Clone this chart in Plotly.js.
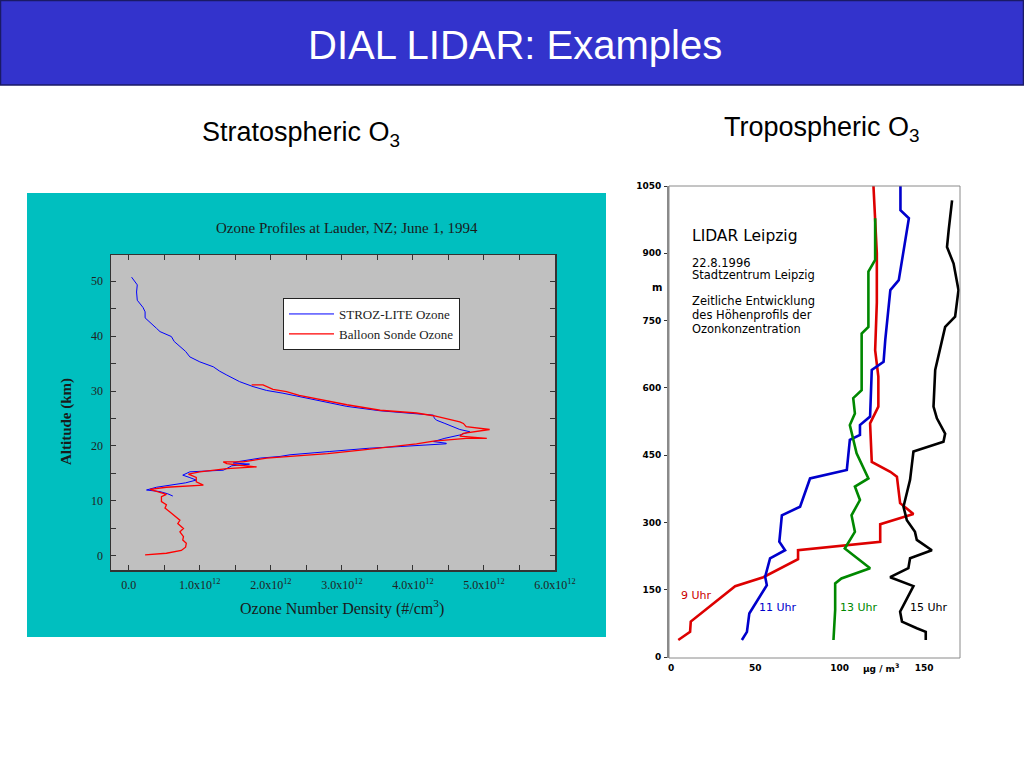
<!DOCTYPE html>
<html>
<head>
<meta charset="utf-8">
<script src="https://cdn.plot.ly/plotly-3.0.1.min.js"></script>
<style>html,body{margin:0;padding:0;background:#fff;}#chart{width:1024px;height:768px;}</style>
</head>
<body>
<div id="chart"></div>
<script>
// ---------- Data: stratospheric ozone (density in units of 1e12 #/cm^3, altitude km) ----------
const strozAlt = [50.7, 49.3, 48.0, 46.5, 45.2, 44.4, 43.3, 42.2, 41.4, 40.8, 39.9, 39.0, 38.1, 37.2, 36.2, 35.3, 34.4, 33.6, 32.9, 31.7, 30.8, 30.1, 29.6, 29.1, 28.4, 27.8, 27.2, 26.4, 26.0, 25.6, 25.1, 24.7, 24.1, 23.5, 23.0, 22.6, 22.0, 21.4, 20.8, 20.5, 20.4, 19.9, 19.6, 19.0, 18.4, 18.1, 17.8, 17.2, 16.9, 16.7, 16.4, 15.9, 15.6, 15.3, 14.7, 14.3, 13.8, 13.3, 12.9, 12.5, 12.0, 11.7, 11.3, 10.9];
const strozDen = [0.04, 0.12, 0.11, 0.12, 0.20, 0.23, 0.23, 0.33, 0.39, 0.44, 0.60, 0.64, 0.72, 0.80, 0.86, 1.00, 1.19, 1.28, 1.38, 1.56, 1.75, 1.94, 2.17, 2.36, 2.60, 2.85, 3.07, 3.54, 3.96, 4.29, 4.30, 4.33, 4.45, 4.57, 4.66, 4.80, 4.66, 4.45, 4.29, 4.47, 4.47, 3.82, 3.39, 2.83, 2.27, 2.13, 1.85, 1.56, 1.47, 1.70, 1.45, 1.38, 1.33, 0.86, 0.76, 0.85, 0.95, 0.80, 0.62, 0.39, 0.25, 0.44, 0.55, 0.62];

const sondeAlt = [0.2, 0.5, 1.0, 1.6, 2.3, 2.9, 3.5, 4.4, 5.0, 5.9, 6.5, 7.1, 8.0, 8.7, 9.3, 9.9, 10.8, 11.2, 11.7, 12.1, 12.5, 12.9, 13.5, 14.3, 14.9, 15.3, 15.9, 16.2, 16.5, 16.8, 17.1, 17.1, 17.8, 18.2, 18.6, 19.3, 20.0, 20.4, 20.9, 21.4, 21.4, 21.8, 22.3, 23.0, 23.5, 24.1, 24.4, 25.0, 25.5, 26.0, 26.2, 26.5, 27.5, 28.1, 28.7, 29.2, 29.9, 30.3, 31.1, 31.1];
const sondeDen = [0.23, 0.53, 0.74, 0.80, 0.81, 0.76, 0.77, 0.72, 0.77, 0.69, 0.72, 0.67, 0.58, 0.51, 0.53, 0.46, 0.46, 0.53, 0.39, 0.30, 0.53, 1.05, 0.95, 0.95, 0.84, 1.00, 1.38, 1.80, 1.56, 1.38, 1.33, 1.61, 1.94, 2.41, 2.80, 3.30, 3.77, 4.05, 4.29, 4.75, 5.04, 4.66, 4.71, 5.08, 4.75, 4.71, 4.66, 4.45, 4.29, 4.05, 3.82, 3.54, 3.07, 2.85, 2.60, 2.40, 2.22, 2.03, 1.89, 1.73];

const stratXTickVals = [0, 1, 2, 3, 4, 5, 6];
const stratXTickText = ["0.0", "1.0x10<sup>12</sup>", "2.0x10<sup>12</sup>", "3.0x10<sup>12</sup>", "4.0x10<sup>12</sup>", "5.0x10<sup>12</sup>", "6.0x10<sup>12</sup>"];
const stratXMinor = [0.5, 1.5, 2.5, 3.5, 4.5, 5.5];
const stratYTickVals = [0, 10, 20, 30, 40, 50];
const stratYMinor = [5, 15, 25, 35, 45];

// ---------- Data: tropospheric ozone Leipzig (ozone µg/m3, altitude m) ----------
const uhr9O3  = [4.3, 11.3, 11.7, 38, 54.7, 75.3, 75.3, 124, 124, 143.7, 135.8, 133.9, 130, 119, 118, 122.9, 122.9, 121, 122, 122, 120];
const uhr9Alt = [38, 56, 79, 158, 178, 218, 238, 257, 296, 319, 343, 402, 413, 435, 521, 558, 625, 684, 790, 900, 1050];

const uhr11O3  = [42, 45, 46.4, 56.8, 55.8, 58.7, 67.6, 64.2, 65.7, 74.6, 76.5, 82.4, 104.2, 106, 112, 112, 118, 119, 126, 127, 130, 135, 141, 136, 136];
const uhr11Alt = [38, 56, 97, 160, 179, 220, 238, 257, 316, 331, 335, 398, 417, 484, 495, 517, 536, 640, 658, 707, 818, 840, 978, 996, 1050];

const uhr13O3  = [96.3, 97.3, 97.3, 101, 118, 112, 103, 109, 107, 112, 109, 117, 110, 106, 109, 108, 113, 113, 117, 117, 121, 121];
const uhr13Alt = [38, 105, 164, 175, 198, 216, 242, 279, 316, 350, 380, 398, 454, 517, 543, 577, 595, 721, 736, 859, 885, 978];

const uhr15O3  = [151, 151, 145.7, 136.9, 135.8, 143.7, 129.9, 140.7, 141.7, 154.6, 145.7, 144.6, 139.8, 137.8, 141.7, 143.7, 161.5, 162.5, 157.6, 155.6, 156.6, 160.5, 162.5, 168.4, 170.4, 167.5, 163.6, 164.6, 166.6];
const uhr15Alt = [38, 56, 64, 79, 101, 158, 178, 198, 220, 238, 261, 279, 305, 335, 395, 458, 480, 498, 532, 558, 640, 707, 736, 759, 818, 877, 914, 952, 1018];

const tropXTickVals = [0, 50, 100, 150];
const tropYTickVals = [0, 150, 300, 450, 600, 750, 900, 1050];

// ---------- helpers for pixel -> paper positioning ----------
const W = 1024, H = 768;
const px = v => v / W;
const py = v => 1 - v / H;

const serif = "Liberation Serif, Times New Roman, serif";
const sans = "Liberation Sans, Arial, sans-serif";
const geneva = "DejaVu Sans, Verdana, sans-serif";

const traces = [
  {x: strozDen, y: strozAlt, xaxis: 'x', yaxis: 'y', mode: 'lines', name: 'STROZ-LITE Ozone',
   line: {color: '#0000FF', width: 1}},
  {x: sondeDen, y: sondeAlt, xaxis: 'x', yaxis: 'y', mode: 'lines', name: 'Balloon Sonde Ozone',
   line: {color: '#FF0000', width: 1.3}},
  {x: uhr9O3, y: uhr9Alt, xaxis: 'x2', yaxis: 'y2', mode: 'lines', name: '9 Uhr', showlegend: false,
   line: {color: '#DD0000', width: 2.6}},
  {x: uhr11O3, y: uhr11Alt, xaxis: 'x2', yaxis: 'y2', mode: 'lines', name: '11 Uhr', showlegend: false,
   line: {color: '#0000CC', width: 2.6}},
  {x: uhr13O3, y: uhr13Alt, xaxis: 'x2', yaxis: 'y2', mode: 'lines', name: '13 Uhr', showlegend: false,
   line: {color: '#008800', width: 2.6}},
  {x: uhr15O3, y: uhr15Alt, xaxis: 'x2', yaxis: 'y2', mode: 'lines', name: '15 Uhr', showlegend: false,
   line: {color: '#000000', width: 2.6}}
];

const layout = {
  width: W, height: H,
  margin: {l: 0, r: 0, t: 0, b: 0},
  paper_bgcolor: '#FFFFFF',
  plot_bgcolor: 'rgba(0,0,0,0)',
  showlegend: true,
  legend: {
    x: px(283), y: py(298), xanchor: 'left', yanchor: 'top',
    bgcolor: '#FFFFFF', bordercolor: '#222222', borderwidth: 1,
    font: {family: serif, size: 13, color: '#222'},
    itemwidth: 45, tracegroupgap: 0
  },
  xaxis: {
    anchor: 'y',
    domain: [px(111), px(555)], range: [-0.25, 6.0],
    tickmode: 'array', tickvals: stratXTickVals, ticktext: stratXTickText,
    ticks: 'inside', ticklen: 5, tickcolor: '#333', tickwidth: 1,
    minor: {tickmode: 'array', tickvals: stratXMinor, ticks: 'inside', ticklen: 5, tickcolor: '#333'},
    showline: true, linecolor: '#333', linewidth: 1.5, mirror: 'allticks',
    showgrid: false, zeroline: false,
    tickfont: {family: serif, size: 12, color: '#222'}, ticklabelstandoff: 3
  },
  yaxis: {
    anchor: 'x',
    domain: [py(570), py(255)], range: [-2.55, 54.73],
    tickmode: 'array', tickvals: stratYTickVals,
    ticks: 'inside', ticklen: 5, tickcolor: '#333',
    minor: {tickmode: 'array', tickvals: stratYMinor, ticks: 'inside', ticklen: 5, tickcolor: '#333'},
    showline: true, linecolor: '#333', linewidth: 1.5, mirror: 'allticks',
    showgrid: false, zeroline: false,
    tickfont: {family: serif, size: 12, color: '#222'}, ticklabelstandoff: 4
  },
  xaxis2: {
    anchor: 'y2',
    domain: [px(669), px(960)], range: [-1.2, 171.3],
    tickmode: 'array', tickvals: tropXTickVals,
    ticks: '', showline: false, showgrid: false, zeroline: false,
    tickfont: {family: geneva, size: 9, color: '#000', weight: 'bold'}, ticklabelstandoff: 3
  },
  yaxis2: {
    anchor: 'x2',
    domain: [py(658), py(186)], range: [-2.2, 1050],
    tickmode: 'array', tickvals: tropYTickVals,
    ticks: 'outside', ticklen: 3, tickcolor: '#333',
    showline: true, linecolor: '#8a8a8a', linewidth: 2, mirror: false,
    showgrid: false, zeroline: false,
    tickfont: {family: geneva, size: 9, color: '#000', weight: 'bold'}, ticklabelstandoff: 1
  },
  shapes: [
    {type: 'rect', xref: 'paper', yref: 'paper', x0: px(0.5), x1: px(1023.5), y0: py(85), y1: py(0.5),
     fillcolor: '#3333CC', line: {color: '#1A1A66', width: 1.5}, layer: 'below'},
    {type: 'rect', xref: 'paper', yref: 'paper', x0: px(27), x1: px(606), y0: py(637), y1: py(193),
     fillcolor: '#00BFBF', line: {width: 0}, layer: 'below'},
    {type: 'rect', xref: 'x domain', yref: 'y domain', x0: 0, x1: 1, y0: 0, y1: 1,
     fillcolor: '#C0C0C0', line: {width: 0}, layer: 'below'},
    {type: 'rect', xref: 'x2 domain', yref: 'y2 domain', x0: 0, x1: 1, y0: 0, y1: 1,
     fillcolor: 'rgba(0,0,0,0)', line: {color: '#8a8a8a', width: 1}, layer: 'above'}
  ],
  annotations: [
    {text: 'DIAL LIDAR: Examples', xref: 'paper', yref: 'paper', x: px(515), y: py(45),
     xanchor: 'center', yanchor: 'middle', showarrow: false,
     font: {family: sans, size: 40, color: '#FFFFFF'}},
    {text: 'Stratospheric O<sub>3</sub>', xref: 'paper', yref: 'paper', x: px(301), y: py(134),
     xanchor: 'center', yanchor: 'middle', showarrow: false,
     font: {family: sans, size: 27, color: '#000'}},
    {text: 'Tropospheric O<sub>3</sub>', xref: 'paper', yref: 'paper', x: px(822), y: py(129),
     xanchor: 'center', yanchor: 'middle', showarrow: false,
     font: {family: sans, size: 27, color: '#000'}},
    {text: 'Ozone Profiles at Lauder, NZ; June 1, 1994', xref: 'paper', yref: 'paper', x: px(347), y: py(228),
     xanchor: 'center', yanchor: 'middle', showarrow: false,
     font: {family: serif, size: 15, color: '#1a1a1a'}},
    {text: 'Altitude (km)', xref: 'paper', yref: 'paper', x: px(66), y: py(422), textangle: -90,
     xanchor: 'center', yanchor: 'middle', showarrow: false,
     font: {family: serif, size: 15, color: '#1a1a1a', weight: 'bold'}},
    {text: 'Ozone Number Density (#/cm<sup>3</sup>)', xref: 'paper', yref: 'paper', x: px(342), y: py(607),
     xanchor: 'center', yanchor: 'middle', showarrow: false,
     font: {family: serif, size: 16, color: '#1a1a1a'}},
    {text: 'LIDAR Leipzig', xref: 'paper', yref: 'paper', x: px(690), y: py(236),
     xanchor: 'left', yanchor: 'middle', showarrow: false,
     font: {family: geneva, size: 15.5, color: '#000'}},
    {text: '22.8.1996', xref: 'paper', yref: 'paper', x: px(690), y: py(263),
     xanchor: 'left', yanchor: 'middle', showarrow: false,
     font: {family: geneva, size: 11.5, color: '#000'}},
    {text: 'Stadtzentrum Leipzig', xref: 'paper', yref: 'paper', x: px(690), y: py(275),
     xanchor: 'left', yanchor: 'middle', showarrow: false,
     font: {family: geneva, size: 11.5, color: '#000'}},
    {text: 'Zeitliche Entwicklung', xref: 'paper', yref: 'paper', x: px(690), y: py(301),
     xanchor: 'left', yanchor: 'middle', showarrow: false,
     font: {family: geneva, size: 11.5, color: '#000'}},
    {text: 'des Höhenprofils der', xref: 'paper', yref: 'paper', x: px(690), y: py(315),
     xanchor: 'left', yanchor: 'middle', showarrow: false,
     font: {family: geneva, size: 11.5, color: '#000'}},
    {text: 'Ozonkonzentration', xref: 'paper', yref: 'paper', x: px(690), y: py(329),
     xanchor: 'left', yanchor: 'middle', showarrow: false,
     font: {family: geneva, size: 11.5, color: '#000'}},
    {text: 'm', xref: 'paper', yref: 'paper', x: px(657), y: py(287),
     xanchor: 'center', yanchor: 'middle', showarrow: false,
     font: {family: geneva, size: 10, color: '#000', weight: 'bold'}},
    {text: 'µg / m<sup>3</sup>', xref: 'paper', yref: 'paper', x: px(881), y: py(668),
     xanchor: 'center', yanchor: 'middle', showarrow: false,
     font: {family: geneva, size: 9, color: '#000', weight: 'bold'}},
    {text: '9 Uhr', xref: 'paper', yref: 'paper', x: px(696), y: py(595),
     xanchor: 'center', yanchor: 'middle', showarrow: false,
     font: {family: geneva, size: 11, color: '#CC0000'}},
    {text: '11 Uhr', xref: 'paper', yref: 'paper', x: px(778), y: py(607),
     xanchor: 'center', yanchor: 'middle', showarrow: false,
     font: {family: geneva, size: 11, color: '#0000CC'}},
    {text: '13 Uhr', xref: 'paper', yref: 'paper', x: px(859), y: py(607),
     xanchor: 'center', yanchor: 'middle', showarrow: false,
     font: {family: geneva, size: 11, color: '#008800'}},
    {text: '15 Uhr', xref: 'paper', yref: 'paper', x: px(929), y: py(607),
     xanchor: 'center', yanchor: 'middle', showarrow: false,
     font: {family: geneva, size: 11, color: '#000'}}
  ]
};

Plotly.newPlot('chart', traces, layout, {staticPlot: true, displayModeBar: false});
</script>
</body>
</html>
